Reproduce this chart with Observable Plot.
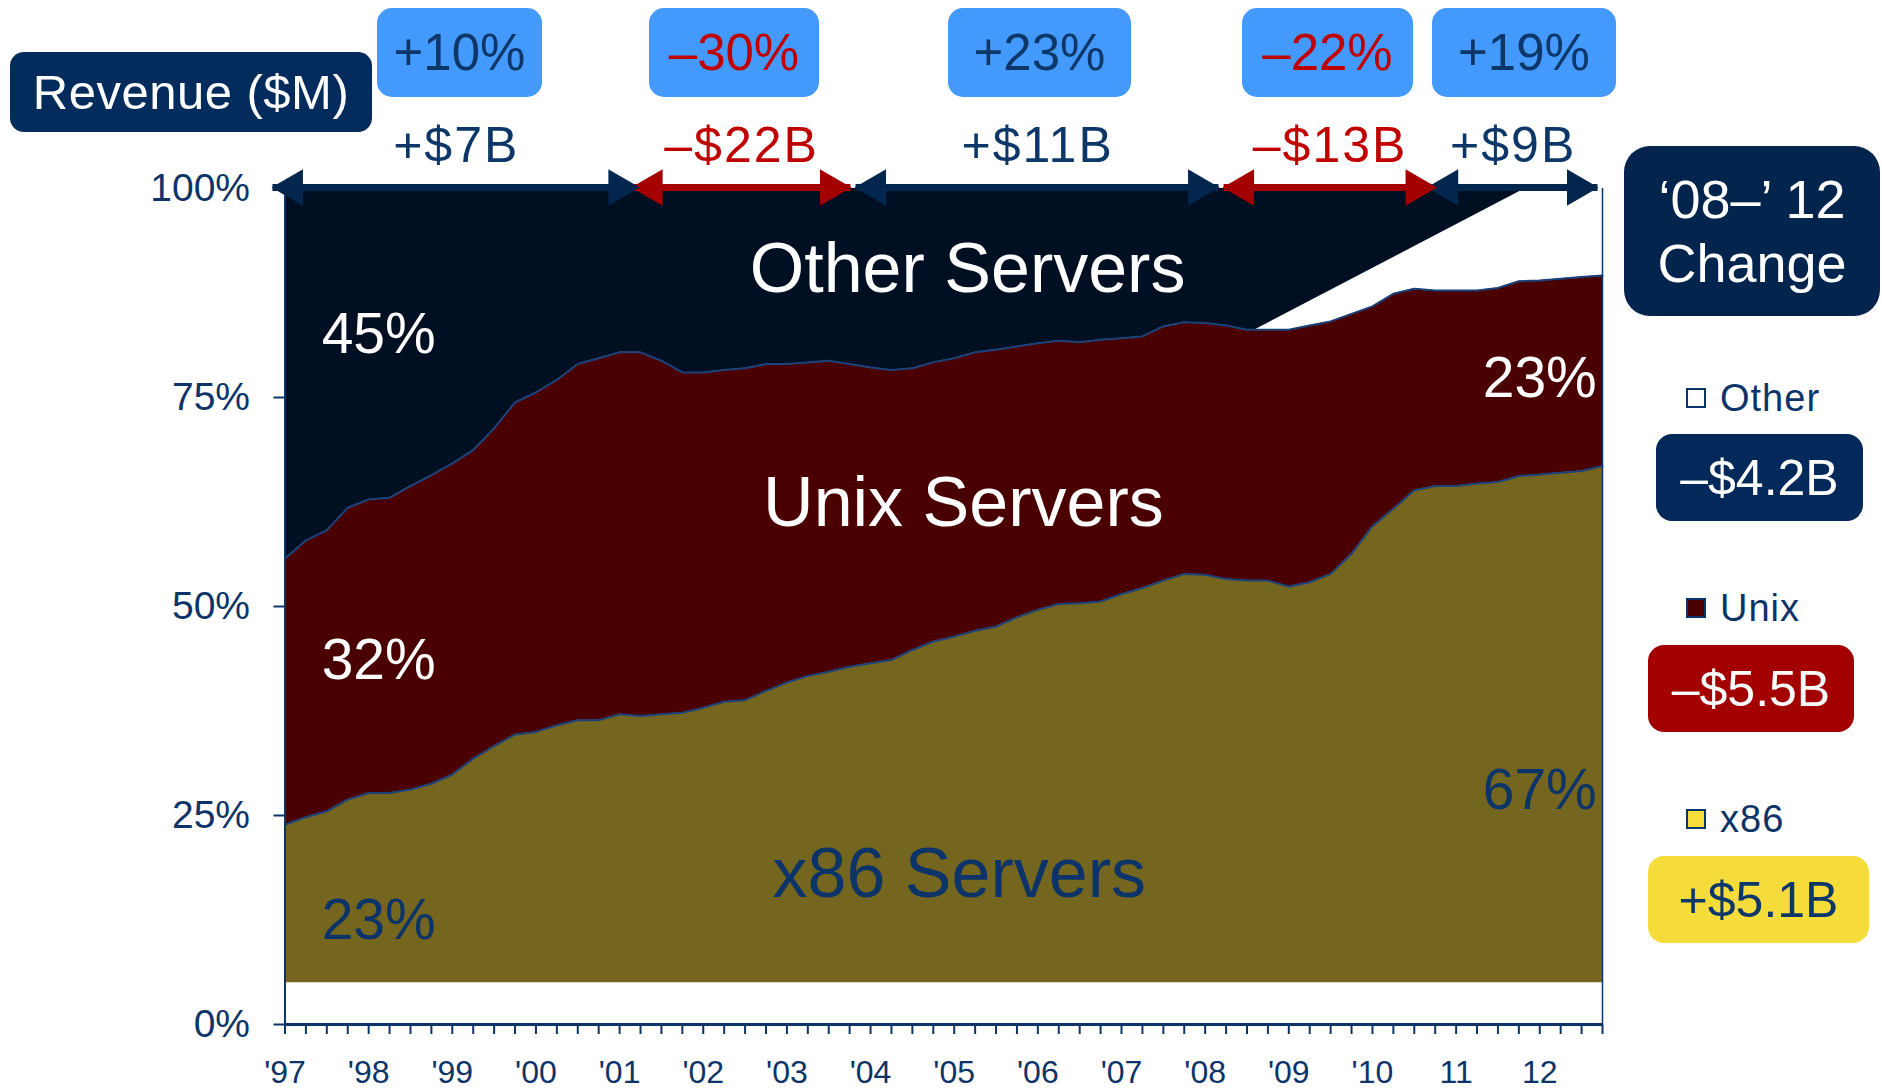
<!DOCTYPE html>
<html><head><meta charset="utf-8">
<script src="https://cdn.jsdelivr.net/npm/d3@7"></script>
<script src="https://cdn.jsdelivr.net/npm/@observablehq/plot@0.6"></script>
<style>
html,body{margin:0;padding:0;background:#fff;}
#wrap{position:relative;width:1882px;height:1089px;overflow:hidden;font-family:'Liberation Sans',Arial,Helvetica,sans-serif;}
#wrap svg{position:absolute;left:0;top:0;}
.box{position:absolute;display:flex;align-items:center;justify-content:center;white-space:nowrap;line-height:1;box-sizing:border-box;}
.txt{position:absolute;white-space:nowrap;line-height:1;}
.sq{position:absolute;width:20px;height:20px;box-sizing:border-box;border:2px solid #0d3468;}
</style></head><body><div id="wrap"></div>
<script>
// ---------- data ----------
const firstYear = 1997;            // Q1 1997, quarterly points
const x86Share = [23.9,24.8,25.5,26.9,27.7,27.7,28.1,28.8,29.9,31.8,
  33.3,34.7,35.0,35.8,36.4,36.4,37.1,36.9,37.1,37.3,
  37.9,38.6,38.8,39.9,40.9,41.7,42.2,42.8,43.2,43.6,
  44.8,45.8,46.4,47.1,47.6,48.7,49.6,50.3,50.4,50.6,
  51.5,52.2,53.1,53.9,53.8,53.3,53.1,53.1,52.4,52.9,
  53.9,56.3,59.6,61.7,63.9,64.4,64.4,64.7,64.9,65.6,
  65.8,66.0,66.2,66.8];
// cumulative x86 + Unix share (top of Unix band)
const x86UnixShare = [55.7,57.9,59.1,61.8,62.8,63.0,64.4,65.7,67.1,68.7,
  71.3,74.4,75.6,77.1,79.0,79.7,80.4,80.4,79.4,78.0,
  78.0,78.3,78.5,79.0,79.0,79.2,79.4,79.0,78.6,78.3,
  78.5,79.2,79.7,80.4,80.7,81.1,81.5,81.8,81.6,81.9,
  82.1,82.3,83.5,84.0,83.9,83.6,83.1,83.1,83.1,83.6,
  84.1,85.0,85.9,87.4,88.0,87.8,87.8,87.8,88.1,88.9,
  89.0,89.2,89.4,89.6];
const x86Floor = 5;
// lower edge of the "Other" band after it detaches from Unix
const otherEdgeYears = [2008.6, 2011.83];
const otherEdgeShares = [83.1, 100];
const yTicks = [0, 25, 50, 75, 100];
const yearTicks = d3.range(1997, 2013);
const yearLabels = ["'97","'98","'99","'00","'01","'02","'03","'04","'05","'06","'07","'08","'09","'10","11","12"];
const periodFrom = [1996.85, 2001.15, 2003.82, 2008.22, 2010.66];
const periodTo   = [2001.23, 2003.76, 2008.16, 2010.76, 2012.69];
const periodPct  = ["+10%", "–30%", "+23%", "–22%", "+19%"];
const periodAmt  = ["+$7B", "–$22B", "+$11B", "–$13B", "+$9B"];
const seriesNames = ["Other Servers", "Unix Servers", "x86 Servers"];
const startShares = ["45%", "32%", "23%"];
const endShares = ["23%", "67%"];
const legendNames = ["Other", "Unix", "x86"];
const changeValues = ["–$4.2B", "–$5.5B", "+$5.1B"];

// ---------- build ----------
const FONT = "'Liberation Sans', Arial, Helvetica, sans-serif";
const NAVY = "#0d3468", RED = "#c00000", ARROWNAVY = "#03264f", ARROWRED = "#a50000";
const rows = x86Share.map((v, i) => ({year: firstYear + i / 4, x86: v, unix: x86UnixShare[i]}));
const lastYear = rows[rows.length - 1].year;
const quarters = rows.map(d => d.year);
const otherRows = rows.filter(d => d.year < otherEdgeYears[0]).map(d => ({year: d.year, lower: d.unix}))
  .concat(otherEdgeYears.map((y, i) => ({year: y, lower: otherEdgeShares[i]})));
const periods = periodFrom.map((f, i) => ({from: f, to: periodTo[i], pct: periodPct[i], amt: periodAmt[i],
  up: periodPct[i][0] === "+"}));
periods.forEach(p => p.col = p.up ? ARROWNAVY : ARROWRED);

const labels = [
  {t: seriesNames[0], x: 2005.16, y: 87.6, c: "white", s: 70},
  {t: seriesNames[1], x: 2005.11, y: 59.6, c: "white", s: 70},
  {t: seriesNames[2], x: 2005.06, y: 15.2, c: NAVY, s: 70},
  {t: startShares[0], x: 1998.12, y: 80.3, c: "white", s: 57},
  {t: startShares[1], x: 1998.12, y: 41.3, c: "white", s: 57},
  {t: startShares[2], x: 1998.12, y: 10.2, c: NAVY, s: 57},
  {t: endShares[0], x: 2012.0, y: 75.1, c: "white", s: 57},
  {t: endShares[1], x: 2012.0, y: 25.8, c: NAVY, s: 57}
];

const plot = Plot.plot({
  width: 1882, height: 1089,
  marginLeft: 284.5, marginRight: 280, marginTop: 188, marginBottom: 65,
  x: {domain: [1997, lastYear]},
  y: {domain: [0, 100]},
  style: {fontFamily: FONT, background: "transparent", color: NAVY, overflow: "visible"},
  marks: [
    Plot.areaY(rows, {x: "year", y1: x86Floor, y2: "x86", fill: "#74661e"}),
    Plot.areaY(rows, {x: "year", y1: "x86", y2: "unix", fill: "#4b0000"}),
    Plot.areaY(otherRows, {x: "year", y1: "lower", y2: 100, fill: "#000f22"}),
    Plot.lineY(rows, {x: "year", y: "x86", stroke: "#1a4179", strokeWidth: 2}),
    Plot.lineY(rows, {x: "year", y: "unix", stroke: "#1a4179", strokeWidth: 2}),
    Plot.ruleX([lastYear], {y1: 0, y2: 100, stroke: NAVY, strokeWidth: 1.5}),
    Plot.ruleX([1997], {y1: 0, y2: 100, stroke: NAVY, strokeWidth: 2}),
    Plot.ruleY([0], {stroke: NAVY, strokeWidth: 3}),
    Plot.axisY({ticks: yTicks, tickFormat: d => d + "%", tickSize: 11, tickPadding: 24, fontSize: 39, label: null, strokeWidth: 2}),
    Plot.axisX({ticks: quarters, tickSize: 10, tickFormat: () => "", label: null, strokeWidth: 2}),
    Plot.axisX({ticks: yearTicks, tickSize: 0, tickPadding: 36, tickFormat: d => yearLabels[d - 1997], fontSize: 32, label: null}),
    Plot.text(labels, {x: "x", y: "y", text: "t", fill: "c", fontSize: "s", lineAnchor: "bottom", textAnchor: "middle"}),
    Plot.link(periods, {x1: "from", x2: "to", y1: 100, y2: 100, stroke: "col", strokeWidth: 7, dy: -1}),
    Plot.dot(periods, {x: "from", y: 100, symbol: "triangle", r: 13.5, rotate: -90, dx: 20, dy: -1, fill: "col"}),
    Plot.dot(periods, {x: "to", y: 100, symbol: "triangle", r: 13.5, rotate: 90, dx: -20, dy: -1, fill: "col"})
  ]
});
const wrap = document.getElementById("wrap");
wrap.appendChild(plot);
const xs = plot.scale("x");

function el(cls, css, html) {
  const d = document.createElement("div");
  d.className = cls;
  Object.assign(d.style, css);
  d.textContent = html;
  wrap.appendChild(d);
  return d;
}
// top change boxes
const pctBoxLeft = [377, 649, 948, 1242, 1432];
const pctBoxWidth = [165, 170, 183, 171, 184];
periods.forEach((p, i) => {
  const cx = xs.apply((p.from + p.to) / 2);
  const c = p.up ? "#0d3768" : RED;
  el("box", {left: pctBoxLeft[i] + "px", top: "8px", width: pctBoxWidth[i] + "px", height: "89px",
    background: "#4499fd", borderRadius: "15px", fontSize: "51px", color: c}, p.pct);
  const t = el("txt", {top: (162 - 0.8465 * 50) + "px", fontSize: "50px", letterSpacing: "2px", color: c}, p.amt);
  t.style.left = (cx - (t.offsetWidth - 2) / 2) + "px";
});
// Revenue box
el("box", {left: "10px", top: "52px", width: "362px", height: "80px", background: "#032c5c",
  borderRadius: "14px", color: "white", fontSize: "49px", letterSpacing: "0.5px"}, "Revenue ($M)");
// '08-'12 change box
const cb = el("box", {left: "1624px", top: "146px", width: "256px", height: "170px", background: "#03244d",
  borderRadius: "26px", color: "white", fontSize: "54px", flexDirection: "column", lineHeight: "64px"}, "");
["‘08–’ 12", "Change"].forEach(s => { const d = document.createElement("div"); d.textContent = s; cb.appendChild(d); });
// legend
const legendTop = [388, 598, 809];
const legendFill = ["#ffffff", "#4b0000", "#f6dd3c"];
const boxTop = [434, 645, 856];
const boxLeft = [1656, 1648, 1648];
const boxW = [207, 206, 221];
const boxBg = ["#03285a", "#a30000", "#f6dc3a"];
const boxFg = ["white", "white", "#0d3768"];
legendNames.forEach((n, i) => {
  el("sq", {left: "1686px", top: legendTop[i] + "px", background: legendFill[i]}, "");
  el("txt", {left: "1720px", top: (legendTop[i] + 10 - 0.4885 * 38) + "px", fontSize: "38px",
    color: NAVY, letterSpacing: "1px"}, n);
  el("box", {left: boxLeft[i] + "px", top: boxTop[i] + "px", width: boxW[i] + "px", height: "87px",
    background: boxBg[i], borderRadius: "16px", color: boxFg[i], fontSize: "50px"}, changeValues[i]);
});
</script></body></html>
